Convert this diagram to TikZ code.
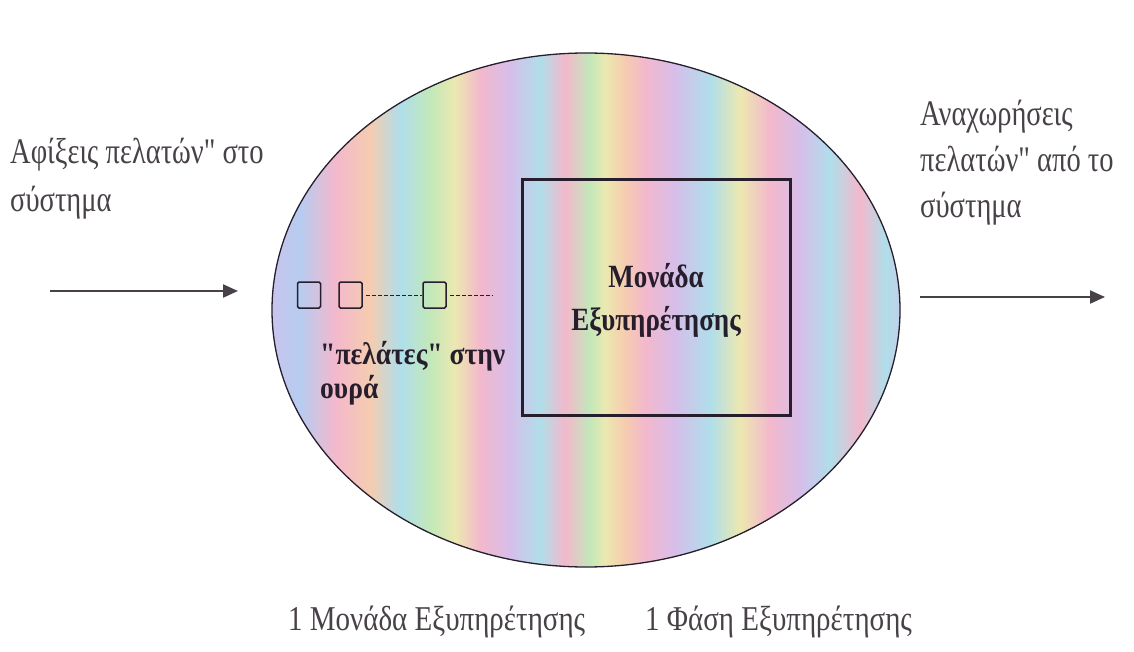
\documentclass[tikz,border=0pt]{standalone}
\usepackage{fontspec}
\setmainfont{Liberation Serif}[Ligatures=TeXOff]
\usetikzlibrary{shapes.geometric,arrows.meta}
\definecolor{cpink}{RGB}{243,184,204}
\definecolor{cpeach}{RGB}{245,204,176}
\definecolor{cyellow}{RGB}{236,232,176}
\definecolor{cgreen}{RGB}{194,232,186}
\definecolor{ccyan}{RGB}{176,222,234}
\definecolor{cblue}{RGB}{182,204,240}
\definecolor{clav}{RGB}{214,190,234}
\definecolor{ctext}{RGB}{72,66,72}
\definecolor{cdark}{RGB}{38,30,44}
\newcommand{\tallish}[1]{\scalebox{0.95}[1.2]{#1}}
\newcommand{\tallfull}[1]{\scalebox{1.0}[1.2]{#1}}
\newcommand{\tallwide}[1]{\scalebox{1.06}[1.2]{#1}}
\tikzset{
  lbl/.style={inner sep=0pt, text=ctext, font=\fontsize{30}{36}\selectfont, anchor=base west},
  btm/.style={inner sep=0pt, text=ctext, font=\fontsize{29}{35}\selectfont, anchor=base west},
  inner/.style={inner sep=0pt, text=cdark, font=\bfseries\fontsize{26}{32}\selectfont, anchor=base west},
  flow/.style={draw=ctext, line width=2.2pt, -{Triangle[length=15pt,width=13pt]}},
  qbox/.style={draw=cdark, line width=1.5pt, minimum width=23pt, minimum height=26pt, inner sep=0pt, rounded corners=1.5pt},
  qdash/.style={draw=cdark, line width=0.9pt, dash pattern=on 4pt off 2pt}
}
\begin{document}
\begin{tikzpicture}[x=1pt,y=-1pt]
\useasboundingbox (0,0) rectangle (1134,652);
% pastel fill of the system
\begin{scope}
  \clip (586,310) ellipse [x radius=314, y radius=257];
  \foreach \xa/\ca/\xb/\cb in {250/clav/300/cblue, 300/cblue/335/cpink, 335/cpink/370/cpeach,
     370/cpeach/400/ccyan, 400/ccyan/430/cgreen, 430/cgreen/455/cyellow, 455/cyellow/480/cpink,
     480/cpink/510/clav, 510/clav/540/ccyan, 540/ccyan/565/cpink, 565/cpink/590/cgreen,
     590/cgreen/605/cyellow, 605/cyellow/625/cpeach, 625/cpeach/645/cpink, 645/cpink/675/clav,
     675/clav/710/ccyan, 710/ccyan/740/cyellow, 740/cyellow/770/cpink, 770/cpink/800/clav,
     800/clav/830/ccyan, 830/ccyan/860/cpink, 860/cpink/885/ccyan, 885/ccyan/920/clav}
    \shade[left color=\ca, right color=\cb] (\xa,40) rectangle (\xb,580);
\end{scope}
\node[ellipse, draw=cdark, line width=1.3pt, minimum width=628pt, minimum height=514pt, inner sep=0pt] (sys) at (586,310) {};

% service unit
\node[draw=cdark, line width=3pt, minimum width=268pt, minimum height=235pt, inner sep=0pt] (server) at (656,297.5) {};
\node[inner, anchor=base, font=\bfseries\fontsize{27}{32}\selectfont] (srv1) at (656,287) {\tallfull{Μονάδα}};
\node[inner, anchor=base, font=\bfseries\fontsize{27}{32}\selectfont] (srv2) at (656,330) {\tallfull{Εξυπηρέτησης}};

% queue
\node[qbox] (q1) at (309,295) {};
\node[qbox] (q2) at (350.5,295) {};
\node[qbox] (q3) at (434.5,295) {};
\coordinate (qend) at (493,295);
\draw[qdash] (q2.east) ++(3,0) coordinate (d1) (d1) -- (q3.west);
\draw[qdash] (q3.east) ++(3,0) coordinate (d2) (d2) -- (qend);
\node[inner] (ql1) at (320,364) {\tallwide{"πελάτες" στην}};
\node[inner] (ql2) at (320,398) {\tallwide{ουρά}};

% arrivals
\node[lbl] (arr1) at (10,164) {\tallish{Αφίξεις πελατών" στο}};
\node[lbl] (arr2) at (10,212) {\tallish{σύστημα}};
\coordinate (inS) at (50,291);
\coordinate (inE) at (238,291);
\draw[flow] (inS) -- (inE);

% departures
\node[lbl] (dep1) at (920,126) {\tallish{Αναχωρήσεις}};
\node[lbl] (dep2) at (920,172) {\tallish{πελατών" από το}};
\node[lbl] (dep3) at (920,218) {\tallish{σύστημα}};
\coordinate (outS) at (920,297);
\coordinate (outE) at (1105,297);
\draw[flow] (outS) -- (outE);

% bottom captions
\node[btm] (cap1) at (288,630) {\tallfull{1 Μονάδα Εξυπηρέτησης}};
\node[btm] (cap2) at (645,630) {\tallfull{1 Φάση Εξυπηρέτησης}};
\end{tikzpicture}
\end{document}
